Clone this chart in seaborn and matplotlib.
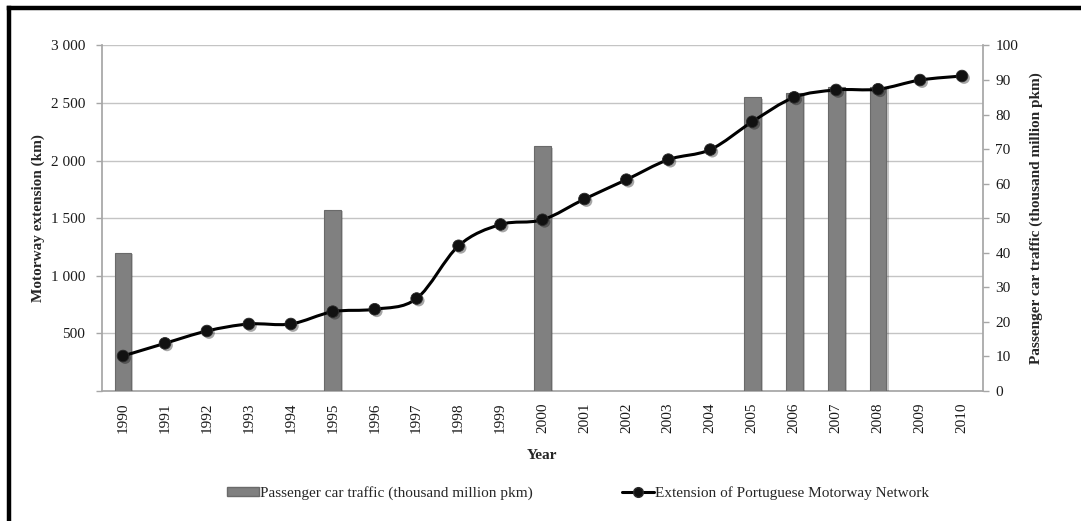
import numpy as np
import matplotlib
matplotlib.use("Agg")
import matplotlib.pyplot as plt
import seaborn as sns
from matplotlib.path import Path
from matplotlib.patches import PathPatch, Patch
from matplotlib.lines import Line2D
import matplotlib.patheffects as pe

# Portuguese motorway network length (km) and passenger car traffic
years = list(range(1990, 2011))
motorway_km = [304, 414, 521, 582, 582, 689, 710, 803, 1261, 1446, 1487,
               1667, 1835, 2009, 2096, 2338, 2550, 2614, 2620, 2700, 2735]
traffic_years = [1990, 1995, 2000, 2005, 2006, 2007, 2008]
traffic_pkm = [40.0, 52.4, 70.8, 85.0, 86.2, 88.0, 88.0]

left_ticks = [0, 500, 1000, 1500, 2000, 2500, 3000]
left_tick_labels = ["", "500", "1 000", "1 500", "2 000", "2 500", "3 000"]
right_ticks = list(range(0, 101, 10))

sns.set_theme(style="white")
plt.rcParams["font.family"] = ["Liberation Serif", "DejaVu Serif"]

GRID = "#c4c4c4"
AXIS = "#a6a6a6"
BAR = "#808080"
FS = 11

fig = plt.figure(figsize=(10.81, 5.21), dpi=100)
ax = fig.add_axes([0.0944, 0.2495, 0.8149, 0.6632])
ax2 = ax.twinx()   # bars, right scale
ax3 = ax.twinx()   # line, left scale, drawn on top

year_labels = [str(y) for y in years]

# Bars on the secondary (right) axis
sns.barplot(x=[str(y) for y in traffic_years], y=traffic_pkm,
            order=year_labels, ax=ax2, color=BAR, saturation=1,
            width=0.4, edgecolor="#6a6a6a", linewidth=0.8)
for p in ax2.patches:
    p.set_path_effects([pe.SimplePatchShadow(offset=(1.5, -1), alpha=0.25),
                        pe.Normal()])

# Smoothed line through the motorway values
xs = np.arange(len(years), dtype=float)
pts = np.column_stack([xs, np.array(motorway_km, dtype=float)])
n = len(pts)
verts = [tuple(pts[0])]
codes = [Path.MOVETO]
for i in range(n - 1):
    p0 = pts[max(i - 1, 0)]
    p1 = pts[i]
    p2 = pts[i + 1]
    p3 = pts[min(i + 2, n - 1)]
    c1 = p1 + (p2 - p0) / 6.0
    c2 = p2 - (p3 - p1) / 6.0
    verts += [tuple(c1), tuple(c2), tuple(p2)]
    codes += [Path.CURVE4] * 3
ax3.add_patch(PathPatch(Path(verts, codes), facecolor="none",
                        edgecolor="black", linewidth=2.2, zorder=3,
                        capstyle="round", joinstyle="round"))
sns.scatterplot(x=xs, y=motorway_km, ax=ax3, color="#111111", s=70,
                edgecolor="#2a2a2a", linewidth=0.6, zorder=4, legend=False)
for coll in ax3.collections:
    coll.set_path_effects([pe.SimplePatchShadow(offset=(1.5, -1.5), alpha=0.35),
                           pe.Normal()])

# Axes limits and ticks
ax.set_xlim(-0.5, len(years) - 0.5)
ax.set_ylim(0, 3000)
ax3.set_ylim(0, 3000)
ax2.set_ylim(0, 100)

ax.set_yticks(left_ticks)
ax.set_yticklabels(left_tick_labels)
ax2.set_yticks(right_ticks)
ax2.set_yticklabels([str(t) for t in right_ticks])
ax.set_xticks(xs)
ax.set_xticklabels(year_labels, rotation=90)

ax.tick_params(axis="y", which="both", left=True, length=4, width=1,
               color=AXIS, labelsize=FS, pad=8, labelcolor="#1a1a1a")
ax.tick_params(axis="x", length=0, pad=8, labelsize=FS, labelcolor="#1a1a1a")
ax2.tick_params(axis="y", right=True, length=4, width=1, color=AXIS,
                labelsize=FS, pad=5, labelcolor="#1a1a1a")
ax3.set_yticks([])
ax3.set_ylabel("")
ax3.set_xlabel("")

ax.yaxis.grid(True, color=GRID, linewidth=1)
ax.xaxis.grid(False)
ax2.grid(False)
ax3.grid(False)
ax.set_axisbelow(True)

for a in (ax, ax2, ax3):
    for s in a.spines.values():
        s.set_visible(False)
ax.spines["left"].set_visible(True)
ax.spines["left"].set_color(AXIS)
ax.spines["bottom"].set_visible(True)
ax.spines["bottom"].set_color(AXIS)
ax2.spines["right"].set_visible(True)
ax2.spines["right"].set_color(AXIS)

ax.set_ylabel("Motorway extension (km)", fontsize=FS, fontweight="bold",
              labelpad=4)
ax2.set_ylabel("Passenger car traffic (thousand million pkm)", fontsize=FS,
               fontweight="bold", labelpad=8)
ax.set_xlabel("Year", fontsize=FS, fontweight="bold", labelpad=12)

# Legend below the plot
handles = [
    Patch(facecolor=BAR, edgecolor="#6a6a6a",
          label="Passenger car traffic (thousand million pkm)"),
    Line2D([0], [0], color="black", linewidth=2.2, marker="o", markersize=7,
           markerfacecolor="#111111", markeredgecolor="#2a2a2a",
           label="Extension of Portuguese Motorway Network"),
]
fig.legend(handles=handles, loc="center", bbox_to_anchor=(578 / 1081, 1 - 493 / 521),
           ncol=2, frameon=False, fontsize=FS, handlelength=2.1,
           handleheight=0.5, handletextpad=0.1, columnspacing=5.8)

# Frame lines along the top and left edges
fig.add_artist(Line2D([9 / 1081, 9 / 1081], [0, 1 - 8.3 / 521],
                      transform=fig.transFigure, color="black", linewidth=3.2,
                      solid_capstyle="projecting"))
fig.add_artist(Line2D([9 / 1081, 1], [1 - 8.3 / 521, 1 - 8.3 / 521],
                      transform=fig.transFigure, color="black", linewidth=3.2,
                      solid_capstyle="projecting"))

fig.savefig("out.png", dpi=100, facecolor="white")
